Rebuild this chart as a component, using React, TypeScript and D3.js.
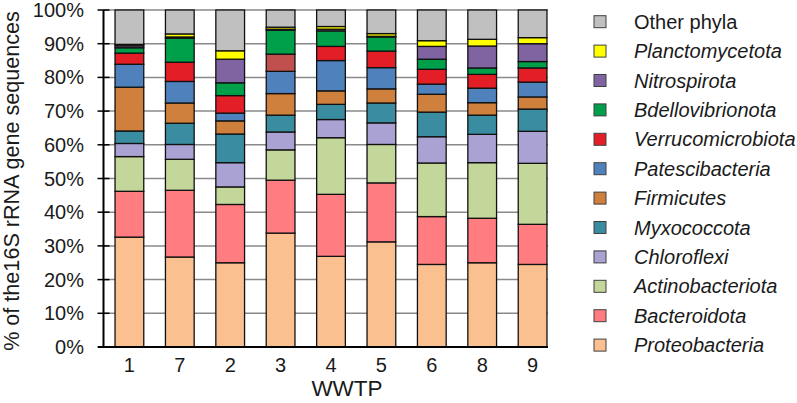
import React from "react";
import * as d3 from "d3";

const categories = ["1", "7", "2", "3", "4", "5", "6", "8", "9"];

const seriesNames = [
  "Proteobacteria",
  "Bacteroidota",
  "Actinobacteriota",
  "Chloroflexi",
  "Myxococcota",
  "Firmicutes",
  "Patescibacteria",
  "Verrucomicrobiota",
  "Bdellovibrionota",
  "Nitrospirota",
  "Planctomycetota",
  "Other phyla",
];

const proteobacteria = [32.6, 26.7, 25.0, 33.8, 26.9, 31.2, 24.5, 25.0, 24.5];
const bacteroidota = [13.6, 19.8, 17.3, 15.7, 18.4, 17.5, 14.2, 13.2, 11.9];
const actinobacteriota = [10.3, 9.2, 5.2, 9.0, 16.8, 11.4, 15.9, 16.5, 18.1];
const chloroflexi = [3.9, 4.4, 7.2, 5.3, 5.4, 6.4, 7.8, 8.4, 9.5];
const myxococcota = [3.7, 6.3, 8.5, 5.0, 4.5, 5.9, 7.3, 5.7, 6.6];
const firmicutes = [13.0, 6.0, 3.9, 6.4, 4.0, 4.2, 5.3, 3.7, 3.6];
const patescibacteria = [6.8, 6.4, 2.3, 6.6, 9.0, 6.3, 3.0, 4.3, 4.4];
const verrucomicrobiota = [3.3, 5.7, 5.2, 5.1, 4.2, 4.9, 4.4, 4.1, 4.2];
const bdellovibrionota = [1.6, 7.1, 3.8, 7.1, 4.6, 4.2, 3.0, 1.9, 1.9];
const nitrospirota = [0.6, 0.4, 7.0, 0.3, 0.5, 0.2, 3.8, 6.5, 5.3];
const planctomycetota = [0.4, 0.9, 2.5, 0.6, 0.8, 0.8, 1.7, 2.0, 1.8];
const otherPhyla = [10.2, 7.1, 12.1, 5.1, 4.9, 7.0, 9.1, 8.7, 8.2];

const seriesValues = [
  proteobacteria,
  bacteroidota,
  actinobacteriota,
  chloroflexi,
  myxococcota,
  firmicutes,
  patescibacteria,
  verrucomicrobiota,
  bdellovibrionota,
  nitrospirota,
  planctomycetota,
  otherPhyla,
];

const seriesColors = [
  "#FAC090",
  "#FF7C80",
  "#C4D79B",
  "#AAA2D2",
  "#3A8DA1",
  "#CF803C",
  "#4F81BD",
  "#E31E26",
  "#00A04B",
  "#8064A2",
  "#FFFF00",
  "#C0C0C0",
];

const italicSeries = seriesNames.map((n) => n !== "Other phyla");

const yTicks = [0, 10, 20, 30, 40, 50, 60, 70, 80, 90, 100];

// one segment in WWTP 3 is drawn in a different red
const colorOverrides = [{ series: "Verrucomicrobiota", category: "3", color: "#C0504D" }];

const W = 797;
const H = 403;

export default function App() {
  const rows = categories.map((c, i) => {
    const r: any = { cat: c };
    seriesNames.forEach((s, j) => (r[s] = seriesValues[j][i]));
    return r;
  });
  const stacked = d3.stack<any>().keys(seriesNames)(rows);

  const step = 50.4;
  const x0 = 104.2;
  const x = d3
    .scaleBand<string>()
    .domain(categories)
    .range([x0, x0 + step * categories.length])
    .paddingInner(0.43)
    .paddingOuter(0.215);
  const y = d3.scaleLinear().domain([0, 100]).range([347, 10]);

  const axisX = 103.5;
  const plotRight = 548;
  const font = "'Liberation Sans', Arial, sans-serif";

  const getColor = (s: string, c: string, j: number) => {
    const o = colorOverrides.find((d) => d.series === s && d.category === c);
    return o ? o.color : seriesColors[j];
  };

  return (
    <svg
      width={W}
      height={H}
      style={{ position: "absolute", left: 0, top: 0, background: "#fff" }}
      fontFamily={font}
    >
      <rect x={0} y={0} width={W} height={H} fill="#fff" />
      {yTicks.map((t) => (
        <line
          key={"g" + t}
          x1={axisX}
          x2={plotRight}
          y1={y(t)}
          y2={y(t)}
          stroke="#8a8a8a"
          strokeWidth={1.5}
        />
      ))}
      {stacked.map((layer, j) => (
        <g key={layer.key}>
          {layer.map((d, i) => {
            const h = y(d[0]) - y(d[1]);
            if (h <= 0) return null;
            return (
              <rect
                key={i}
                x={x(categories[i])}
                y={y(d[1])}
                width={x.bandwidth()}
                height={h}
                fill={getColor(layer.key as string, categories[i], j)}
                stroke="#111"
                strokeWidth={1.3}
              />
            );
          })}
        </g>
      ))}
      <line x1={axisX} x2={axisX} y1={y(100)} y2={y(0)} stroke="#000" strokeWidth={2} />
      <line x1={98} x2={plotRight} y1={y(0)} y2={y(0)} stroke="#000" strokeWidth={2} />
      {yTicks.map((t) => (
        <g key={"t" + t}>
          <line x1={97.5} x2={109.5} y1={y(t)} y2={y(t)} stroke="#000" strokeWidth={1.5} />
          <text x={84} y={y(t)} dy="0.35em" textAnchor="end" fontSize={20} fill="#1a1a1a">
            {t + "%"}
          </text>
        </g>
      ))}
      {categories.map((c) => (
        <text
          key={"x" + c}
          x={(x(c) as number) + x.bandwidth() / 2}
          y={372}
          textAnchor="middle"
          fontSize={20}
          fill="#1a1a1a"
        >
          {c}
        </text>
      ))}
      <text x={347} y={396} textAnchor="middle" fontSize={22.5} fill="#1a1a1a">
        WWTP
      </text>
      <text
        transform={`translate(19,181) rotate(-90)`}
        textAnchor="middle"
        fontSize={21.6}
        fill="#1a1a1a"
      >
        % of the16S rRNA gene sequences
      </text>
      {seriesNames
        .map((s, j) => ({ s, j }))
        .reverse()
        .map(({ s, j }, k) => {
          const cy = 21.7 + k * 29.4;
          return (
            <g key={"l" + s}>
              <rect
                x={594}
                y={cy - 6}
                width={12}
                height={12}
                fill={seriesColors[j]}
                stroke="#404040"
                strokeWidth={1}
              />
              <text
                x={634}
                y={cy}
                dy="0.35em"
                fontSize={20}
                fontStyle={italicSeries[j] ? "italic" : "normal"}
                fill="#1a1a1a"
              >
                {s}
              </text>
            </g>
          );
        })}
    </svg>
  );
}
